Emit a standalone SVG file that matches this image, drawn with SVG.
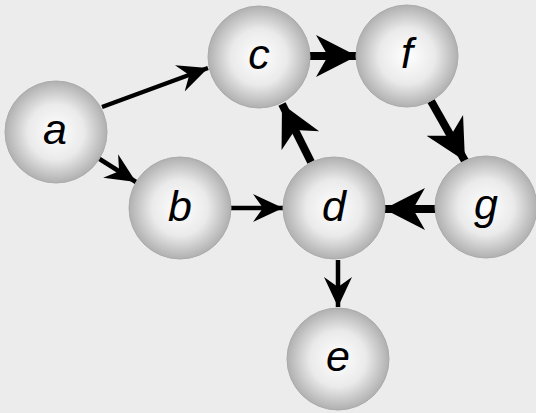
<svg xmlns="http://www.w3.org/2000/svg" width="536" height="413" viewBox="0 0 536 413">
<defs>
<radialGradient id="ball" cx="50%" cy="50%" r="50%">
<stop offset="0" stop-color="#ffffff"/>
<stop offset="0.55" stop-color="#eaeaea"/>
<stop offset="1" stop-color="#b0b0b0"/>
</radialGradient>
<marker id="thin" markerUnits="userSpaceOnUse" markerWidth="32" markerHeight="30" refX="30" refY="15" orient="auto" viewBox="0 0 32 30">
<path d="M30,15 L0,1 L10,15 L0,29 Z" fill="#000"/>
</marker>
<marker id="thick" markerUnits="userSpaceOnUse" markerWidth="44" markerHeight="44" refX="41" refY="22" orient="auto" viewBox="0 0 44 44">
<path d="M41,22 L0,1 L12,22 L0,43 Z" fill="#000"/>
</marker>
</defs>
<style>
.node circle{fill:url(#ball);stroke:#ababab;stroke-width:1}
.node text{font-family:"Liberation Sans",Arial,sans-serif;font-style:italic;font-size:43px;fill:#000;text-anchor:middle}
.thin{stroke:#000;stroke-width:4.5;fill:none;marker-end:url(#thin)}
.thick{stroke:#000;stroke-width:8;fill:none;marker-end:url(#thick)}
</style>
<rect width="536" height="413" fill="#ececec"/>
<g id="edges">
<path class="thin" d="M102,107 L208,68"/>
<path class="thin" d="M98,158 L136,182"/>
<path class="thin" d="M231,208 L283,208"/>
<path class="thin" d="M338,260 L338,307"/>
<path class="thick" d="M310,56 L357,56"/>
<path class="thick" d="M431,101 L465,161"/>
<path class="thick" d="M436,209 L384,209"/>
<path class="thick" d="M311,162 L282,104"/>
</g>
<g id="a" class="node"><circle cx="56" cy="132" r="51"/><text x="55" y="144">a</text></g>
<g id="c" class="node"><circle cx="259" cy="57" r="51"/><text x="259" y="69">c</text></g>
<g id="f" class="node"><circle cx="407" cy="56" r="51"/><text x="407" y="68">f</text></g>
<g id="b" class="node"><circle cx="180" cy="208" r="51"/><text x="180" y="221">b</text></g>
<g id="d" class="node"><circle cx="334" cy="208" r="51"/><text x="334" y="221">d</text></g>
<g id="g" class="node"><circle cx="486" cy="207" r="51"/><text x="486" y="219">g</text></g>
<g id="e" class="node"><circle cx="338" cy="359" r="51"/><text x="338" y="371">e</text></g>
</svg>
